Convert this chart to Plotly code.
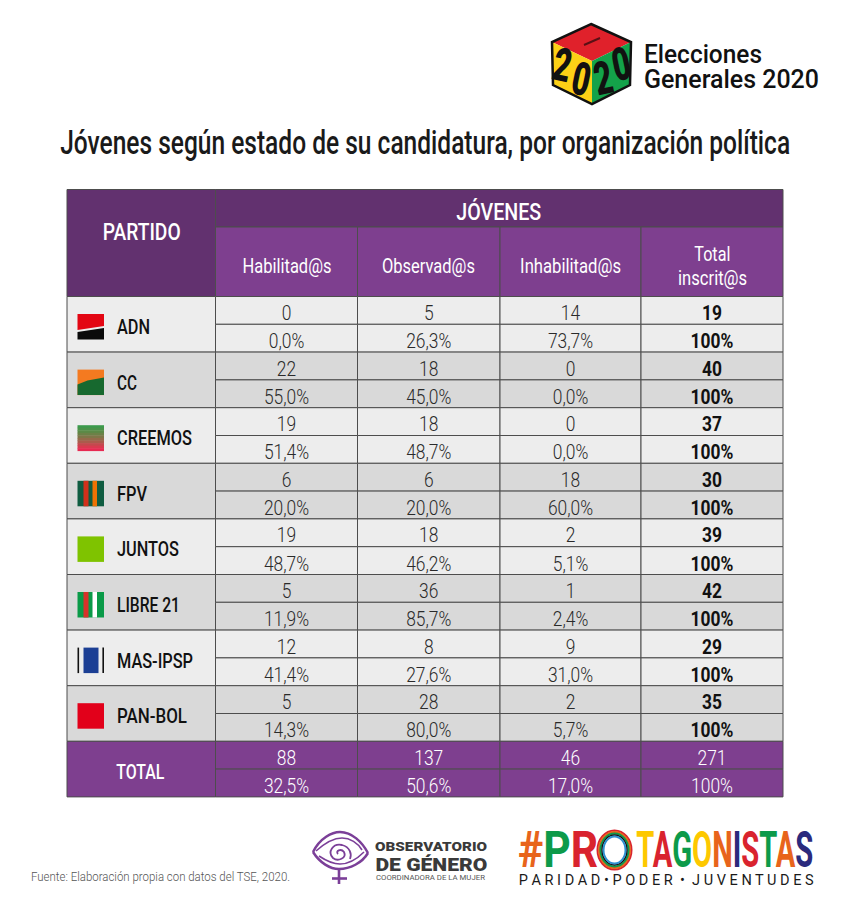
import json
import plotly.graph_objects as go

# table values
partidos = ["ADN", "CC", "CREEMOS", "FPV", "JUNTOS", "LIBRE 21", "MAS-IPSP", "PAN-BOL"]
columnas = ["Habilitad@s", "Observad@s", "Inhabilitad@s"]
habilitados = [0, 22, 19, 6, 19, 5, 12, 5]
observados = [5, 18, 18, 6, 18, 36, 8, 28]
inhabilitados = [14, 0, 0, 18, 2, 1, 9, 2]
totales = [19, 40, 37, 30, 39, 42, 29, 35]
pct_habilitados = ["0,0%", "55,0%", "51,4%", "20,0%", "48,7%", "11,9%", "41,4%", "14,3%"]
pct_observados = ["26,3%", "45,0%", "48,7%", "20,0%", "46,2%", "85,7%", "27,6%", "80,0%"]
pct_inhabilitados = ["73,7%", "0,0%", "0,0%", "60,0%", "5,1%", "2,4%", "31,0%", "5,7%"]
total_fila = [88, 137, 46, 271]
total_pct = ["32,5%", "50,6%", "17,0%", "100%"]

# geometry of the table, in page pixels
COL = [67, 215.5, 357.5, 500, 641, 783]
TOP, MID, HEAD = 189.5, 227, 296.5
ROW_H = 27.8
DARK, PURPLE = "#62316f", "#7e3f8f"
LIGHT, GREY = "#ededed", "#d9d9d9"
LINE = "#4d4d4d"
FONT = "Roboto"

shapes = []
annots = []
anchos = []  # target width of each annotation, the fonts here are all too wide


def rect(x0, y0, x1, y1, fill, line=None, w=1):
    shapes.append(dict(type="rect", x0=x0, y0=y0, x1=x1, y1=y1, fillcolor=fill, layer="below",
                       line=dict(color=line or fill, width=w if line else 0)))


def poly(points, fill, line=None, w=1):
    path = "M" + " L".join(f"{x},{y}" for x, y in points) + " Z"
    shapes.append(dict(type="path", path=path, fillcolor=fill, layer="below",
                       line=dict(color=line or fill, width=w if line else 0)))


def curve(path, color, w):
    shapes.append(dict(type="path", path=path, layer="below", line=dict(color=color, width=w)))


def text(x, y, s, size, width, color="#1a1a1a", weight=400, anchor="center", angle=0):
    annots.append(dict(x=x, y=y, text=s, showarrow=False, xanchor=anchor, yanchor="middle",
                       align=anchor, textangle=angle,
                       font=dict(family=FONT, size=size, color=color, weight=weight)))
    anchos.append(width)


# header
rect(COL[0], TOP, COL[1], HEAD, DARK, LINE)
rect(COL[1], TOP, COL[5], MID, DARK, LINE)
for i in range(1, 5):
    rect(COL[i], MID, COL[i + 1], HEAD, PURPLE, LINE)
text(141, 232, "PARTIDO", 23, 78, "white", 500)
text(499, 212, "JÓVENES", 23, 85, "white", 500)
for c, w_c, x_c in zip(columnas, [89, 93, 101], [286.5, 428.5, 570.5]):
    text(x_c, 266, c, 20, w_c, "white")
text(712, 254, "Total", 20, 36, "white")
text(712, 278, "inscrit@s", 20, 69, "white")

# body rows
n = len(partidos)
anchos_partido = [33, 20, 75, 30, 62, 63, 76, 70]
for r, p in enumerate(partidos):
    y0 = HEAD + 2 * r * ROW_H
    fill = LIGHT if r % 2 == 0 else GREY
    rect(COL[0], y0, COL[1], y0 + 2 * ROW_H, fill, LINE)
    for i in range(1, 5):
        rect(COL[i], y0, COL[i + 1], y0 + ROW_H, fill, LINE)
        rect(COL[i], y0 + ROW_H, COL[i + 1], y0 + 2 * ROW_H, fill, LINE)
    text(115, y0 + 30.5, p, 20, anchos_partido[r], "#111111", 500, anchor="left")

# total rows
y0 = HEAD + 2 * n * ROW_H
rect(COL[0], y0, COL[1], y0 + 2 * ROW_H, PURPLE, LINE)
for i in range(1, 5):
    rect(COL[i], y0, COL[i + 1], y0 + ROW_H, PURPLE, LINE)
    rect(COL[i], y0 + ROW_H, COL[i + 1], y0 + 2 * ROW_H, PURPLE, LINE)
text(140, y0 + 31, "TOTAL", 20, 48, "white", 500)

col_centres = [(COL[i + 1] + COL[i + 2]) / 2 for i in range(4)]
xs_num, ys_num, txt_num = [], [], []
xs_pct, ys_pct, txt_pct = [], [], []
for i, (vals, pcts) in enumerate(zip([habilitados, observados, inhabilitados],
                                     [pct_habilitados, pct_observados, pct_inhabilitados])):
    for r in range(n):
        y0 = HEAD + 2 * r * ROW_H
        xs_num.append(col_centres[i]); ys_num.append(y0 + ROW_H / 2 + 4.5); txt_num.append(str(vals[r]))
        xs_pct.append(col_centres[i]); ys_pct.append(y0 + 1.5 * ROW_H + 5); txt_pct.append(pcts[r])

tot_y = [HEAD + 2 * r * ROW_H + ROW_H / 2 + 4.5 for r in range(n)]
pct_y = [HEAD + 2 * r * ROW_H + 1.5 * ROW_H + 5 for r in range(n)]
foot_y = HEAD + 2 * n * ROW_H

fig = go.Figure()
fig.add_trace(go.Scatter(x=xs_num + xs_pct, y=ys_num + ys_pct, text=txt_num + txt_pct, mode="text",
                         textfont=dict(family=FONT, size=20, color="#2a2a2a", weight=300), hoverinfo="skip"))
fig.add_trace(go.Scatter(x=[col_centres[3]] * (2 * n),
                         y=tot_y + pct_y,
                         text=[str(v) for v in totales] + ["100%"] * n, mode="text",
                         textfont=dict(family=FONT, size=20, color="#111111", weight="bold"),
                         hoverinfo="skip"))
fig.add_trace(go.Scatter(x=col_centres * 2,
                         y=[foot_y + ROW_H / 2 + 4.5] * 4 + [foot_y + 1.5 * ROW_H + 5] * 4,
                         text=[str(v) for v in total_fila] + total_pct, mode="text",
                         textfont=dict(family=FONT, size=20, color="white", weight=300), hoverinfo="skip"))

# party logos
LX0, LX1 = 77.5, 104


def logo_box(r):
    y = HEAD + 2 * r * ROW_H + 17.5
    return y, y + 25.5


y, b = logo_box(0)
poly([(LX0, y), (LX1, y), (LX1, y + 12), (LX0, y + 16)], "#e30613")
poly([(LX0, y + 18), (LX1, y + 14), (LX1, b), (LX0, b)], "#0a0a0a")

y, b = logo_box(1)
rect(LX0, y, LX1, b, "#f47a20")
poly([(LX0, y + 15), (LX0 + 10, y + 11), (LX1, y + 8), (LX1, b), (LX0, b)], "#17692f")

y, b = logo_box(2)
creemos = ["#3c9a4c", "#4a9349", "#5b8a47", "#6c8147", "#7f7648", "#946a4a", "#aa5b4c", "#c24a4e", "#d93a50", "#e72a52"]
for k, c in enumerate(creemos):
    rect(LX0, y + k * (b - y) / 10, LX1, y + (k + 1) * (b - y) / 10 + 0.4, c)

y, b = logo_box(3)
rect(LX0, y, LX1, b, "#0f5c41")
rect(LX0 + 6, y, LX0 + 11, b, "#d2301b")
rect(LX0 + 15, y, LX0 + 19.5, b, "#ee7203")

y, b = logo_box(4)
rect(LX0, y, LX1, b, "#7fc300")

y, b = logo_box(5)
rect(LX0, y, LX1, b, "#0a9a48")
rect(LX0 + 6, y, LX0 + 11, b, "#d8322a")
rect(LX0 + 15, y, LX0 + 19.5, b, "#ffffff")

y, b = logo_box(6)
rect(LX0 + 6, y, LX0 + 21, b, "#1c3f94")
rect(LX0, y, LX0 + 1.6, b, "#111111")
rect(LX1 - 1.6, y, LX1, b, "#111111")

y, b = logo_box(7)
rect(LX0, y, LX1, b, "#e2001a")

# title and source
text(425, 142, "Jóvenes según estado de su candidatura, por organización política", 33, 730, "#1a1a1a", 500)
text(29, 876, "Fuente: Elaboración propia con datos del TSE, 2020.", 13, 259, "#555555", 300, anchor="left")

# elections logo
poly([(591, 24), (631, 42), (592, 61), (552, 42)], "#e0212b")
poly([(552, 42), (592, 61), (592, 104), (553, 85)], "#fcd116")
poly([(631, 42), (592, 61), (592, 104), (630, 85)], "#14a24a")
poly([(591, 24), (631, 42), (630, 85), (592, 104), (553, 85), (552, 42)], "rgba(0,0,0,0)", "#111111", 2.5)
curve("M 584,45 L 600,38", "#5a1015", 2)
text(562, 65, "2", 46, 18, "#111111", 900, angle=12)
text(581, 79, "0", 46, 18, "#111111", 900, angle=12)
text(603, 78, "2", 46, 18, "#111111", 900, angle=-12)
text(621, 64, "0", 46, 18, "#111111", 900, angle=-12)
text(642, 54, "Elecciones", 26, 118, "#111111", 500, anchor="left")
text(642, 79, "Generales 2020", 26, 175, "#111111", 500, anchor="left")

# observatorio logo
VIO = "#7b3f98"
curve("M 313,852 C 320,838 332,832 340,832 C 352,832 362,842 368,853", VIO, 2.5)
curve("M 313,852 C 320,863 330,869 339,869 C 350,869 362,863 368,853", VIO, 2.5)
curve("M 316,851 C 326,842 335,838 342,838 C 350,838 358,843 362,850", VIO, 1.6)
curve("M 319,856 C 328,862 335,864 340,864 C 350,864 358,858 364,852", VIO, 1.6)
curve("M 338,854 C 335,851 341,848 344,852 C 347,858 338,862 333,858 C 327,852 333,843 342,845 C 350,847 352,854 350,859", VIO, 1.8)
curve("M 339,869 L 339,884", VIO, 2.6)
curve("M 332,878.5 L 347,878.5", VIO, 2.6)
text(431, 846, "OBSERVATORIO", 12.5, 112, "#3a3a3a", 900)
text(431, 864, "DE GÉNERO", 17.5, 112, "#3a3a3a", 900)
text(430, 877, "COORDINADORA DE LA MUJER", 7.5, 109, "#555555")


# protagonistas logo, one coloured span per letter
def pintar(letras, colores):
    return "".join(f'<span style="color:{c}">{s}</span>' for s, c in zip(letras, colores))


text(558, 850, pintar("#PR", ["#e8641b", "#0c9a4a", "#d9232e"]), 50, 80, "#111111", 700)
text(724.5, 850, pintar("TAGONISTAS", ["#fdc800", "#d9232e", "#0c9a4a", "#fdc800", "#e8641b",
                                       "#2b2a7d", "#d9232e", "#0c9a4a", "#e8641b", "#2b2a7d"]),
     50, 177, "#111111", 700)
for rx, ry, c, w in [(17, 19.5, "#d9232e", 2), (15.5, 18, "#e8641b", 2), (14, 16.5, "#0c9a4a", 2),
                     (12.5, 15, "#111111", 1.5), (11, 13.5, "#2f8fd0", 2)]:
    shapes.append(dict(type="circle", x0=614.5 - rx, x1=614.5 + rx, y0=850 - ry, y1=850 + ry,
                       layer="below", line=dict(color=c, width=w)))
text(665.5, 880, "P A R I D A D • P O D E R  •  J U V E N T U D E S", 14, 295, "#1a1a1a")

fig.update_layout(
    width=850, height=906,
    margin=dict(l=0, r=0, t=0, b=0),
    paper_bgcolor="white", plot_bgcolor="white",
    showlegend=False,
    xaxis=dict(range=[0, 850], visible=False, fixedrange=True),
    yaxis=dict(range=[906, 0], visible=False, fixedrange=True),
    shapes=shapes, annotations=annots,
)

# squeeze the text to the widths measured on the picture
squeeze = """
document.body.style.margin = '0';
var anchos = %s;
document.querySelectorAll('.annotation-text').forEach(function (t, i) {
  t.setAttribute('lengthAdjust', 'spacingAndGlyphs');
  t.setAttribute('textLength', anchos[i]);
});
document.querySelectorAll('.annotation rect.bg').forEach(function (r) { r.remove(); });
document.querySelectorAll('.textpoint text').forEach(function (t) {
  t.setAttribute('lengthAdjust', 'spacingAndGlyphs');
  t.setAttribute('textLength', t.getComputedTextLength() * 0.87);
});
""" % json.dumps(anchos)

fig.write_html("out.html", config={"displayModeBar": False}, post_script=squeeze)
